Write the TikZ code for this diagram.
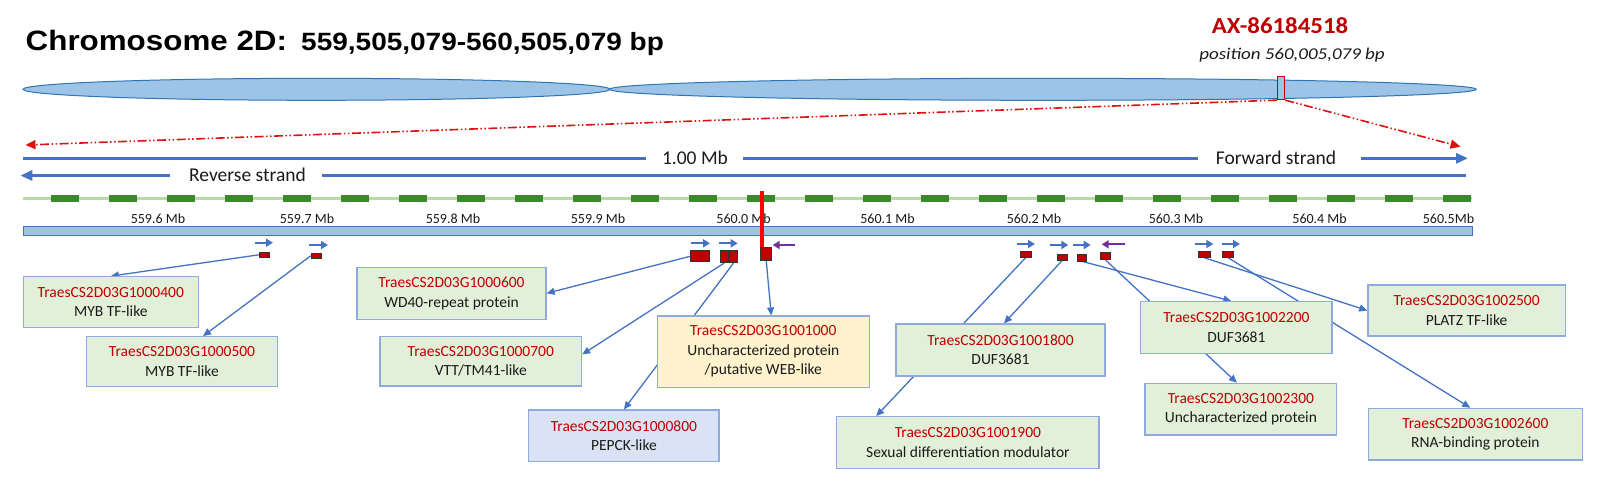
\documentclass[tikz,border=0pt]{standalone}
\usepackage{fontspec}
\setmainfont{Carlito}
\newfontfamily\arialfont{Liberation Sans}
\usetikzlibrary{arrows.meta,calc}
\definecolor{chromfill}{HTML}{9DC3E6}
\definecolor{chromline}{HTML}{2E75B6}
\definecolor{blueline}{HTML}{4472C4}
\definecolor{idred}{HTML}{C00000}
\definecolor{snpred}{HTML}{FF0000}
\definecolor{dashred}{HTML}{E01010}
\definecolor{dkgreen}{HTML}{3A8A2C}
\definecolor{ltgreen}{HTML}{B9DAA3}
\definecolor{genepurple}{HTML}{7030A0}
\definecolor{lborder}{HTML}{8FAADC}
\definecolor{gfill}{HTML}{E2F0D9}
\definecolor{yfill}{HTML}{FFF2CC}
\definecolor{bfill}{HTML}{DAE3F3}
\definecolor{desc}{HTML}{1A1A1A}
\pgfdeclarelayer{bg}
\pgfsetlayers{bg,main}
\begin{document}
\begin{tikzpicture}[x=1pt,y=-1pt,
  chrom/.style={draw=chromline, line width=1pt, fill=chromfill},
  strand/.style={draw=blueline, line width=3pt},
  bigtip/.style={-{Triangle[length=12pt,width=10pt]}},
  strandtxt/.style={inner sep=0, anchor=base, font=\fontsize{19.5}{22}\selectfont, text=desc},
  scl/.style={inner sep=0, anchor=base, font=\fontsize{14}{16}\selectfont, text=desc},
  gene/.style={draw=black!80, line width=0.7pt, fill=idred, inner sep=0},
  garrow/.style={draw=blueline, line width=1.8pt, -{Triangle[length=7pt,width=8pt]}},
  parrow/.style={draw=genepurple, line width=1.8pt, -{Triangle[length=7pt,width=8pt]}},
  lbox/.style={draw=lborder, line width=1.2pt, inner sep=0, align=center, font=\fontsize{15.5}{19.5}\selectfont, text=desc},
  conn/.style={draw=blueline, line width=1.3pt, -{Triangle[length=8pt,width=7pt]}},
  reddash/.style={draw=dashred, line width=1.6pt, dash pattern=on 9pt off 2.5pt on 1.5pt off 2.5pt on 1.5pt off 2.5pt, -{Triangle[length=10pt,width=9pt]}}
]
\useasboundingbox (0,0) rectangle (1600,488);

% title
\node[anchor=base west, inner sep=0, font=\arialfont\bfseries\fontsize{28}{32}\selectfont] (title) at (25.5,50) {\scalebox{1.12}[1]{Chromosome 2D:}};
\node[anchor=base west, inner sep=0, font=\arialfont\bfseries\fontsize{25}{29}\selectfont] (range) at (301,50) {\scalebox{1.12}[1]{559,505,079-560,505,079 bp}};
\node[anchor=base, inner sep=0, font=\bfseries\fontsize{23}{26}\selectfont, text=idred] (ax) at (1280,33.3) {\scalebox{1.08}[1]{AX-86184518}};
\node[anchor=base, inner sep=0, font=\itshape\fontsize{16.5}{19}\selectfont, text=desc] (pos) at (1292,59.3) {\scalebox{1.15}[1]{position 560,005,079 bp}};

% chromosome
\draw[chrom] (316.4,89.3) ellipse [x radius=293.4, y radius=11];
\draw[chrom] (1042.9,89.3) ellipse [x radius=433.2, y radius=11];
\node[draw=idred, line width=1.3pt, fill=chromfill, inner sep=0, minimum width=7pt, minimum height=23pt] (marker) at (1281,88) {};

% zoom lines
\coordinate (redL) at (25.5,145);
\coordinate (redR) at (1460.5,146.7);
\draw[reddash] (marker.south west) -- (redL);
\draw[reddash] (marker.south east) -- (redR);

% strands
\node[strandtxt] (mb) at (695,164.5) {1.00 Mb};
\node[strandtxt] (fwd) at (1276,164.5) {Forward strand};
\node[strandtxt] (rev) at (247.5,181.5) {Reverse strand};
\coordinate (topL) at (23,158.3);
\coordinate (topR) at (1468,158.3);
\draw[strand] (topL) -- ($(topL -| mb.west)+(-16,0)$);
\draw[strand] ($(topL -| mb.east)+(15,0)$) -- ($(topL -| fwd.west)+(-18,0)$);
\draw[strand, bigtip] ($(topL -| fwd.east)+(25,0)$) -- (topR);
\coordinate (revL) at (20.4,175.5);
\coordinate (revR) at (1466,175.5);
\draw[strand, bigtip] ($(revL -| rev.west)+(-19,0)$) -- (revL);
\draw[strand] ($(revL -| rev.east)+(16,0)$) -- (revR);

% green track
\draw[ltgreen, line width=3pt] (23,198.5) -- (1472,198.5);
\foreach \k in {0,...,24} \fill[dkgreen] ({51+58*\k},195) rectangle ++(28,7);

% scale labels
\node[scl] (s1) at (158,223) {559.6 Mb};
\node[scl] (s2) at (307,223) {559.7 Mb};
\node[scl] (s3) at (453,223) {559.8 Mb};
\node[scl] (s4) at (598,223) {559.9 Mb};
\node[scl] (s5) at (743.6,223) {560.0 Mb};
\node[scl] (s6) at (887.5,223) {560.1 Mb};
\node[scl] (s7) at (1034,223) {560.2 Mb};
\node[scl] (s8) at (1176,223) {560.3 Mb};
\node[scl] (s9) at (1319.6,223) {560.4 Mb};
\node[scl] (s10) at (1448.5,223) {560.5Mb};

% ruler bar
\draw[draw=blueline, line width=1pt, fill=chromfill] (23,226.5) rectangle (1472,235.5);

% SNP line
\draw[snpred, line width=4pt] (762,191) -- (762,257);

% genes
\node[gene, minimum width=10pt, minimum height=5.5pt] (g400) at (264.3,254.8) {};
\node[gene, minimum width=10.5pt, minimum height=5.5pt] (g500) at (316.3,255.8) {};
\node[gene, minimum width=19pt, minimum height=11pt] (g600) at (700.3,256.2) {};
\node[gene, minimum width=8.3pt, minimum height=12pt] (g700a) at (724.2,256.7) {};
\node[gene, minimum width=8.3pt, minimum height=12pt] (g700b) at (733.5,256.7) {};
\node[gene, minimum width=11pt, minimum height=12.7pt] (g1000) at (766.2,253.7) {};
\node[gene, minimum width=11pt, minimum height=6pt] (g1800) at (1025.5,254.5) {};
\node[gene, minimum width=10pt, minimum height=6pt] (g1900) at (1062.3,257) {};
\node[gene, minimum width=9.4pt, minimum height=7pt] (g2200) at (1082,257.5) {};
\node[gene, minimum width=10pt, minimum height=7pt] (g2300) at (1105.7,256.3) {};
\node[gene, minimum width=12pt, minimum height=6pt] (g2500) at (1204.5,254.5) {};
\node[gene, minimum width=11pt, minimum height=6pt] (g2600) at (1228.3,254.5) {};

% gene direction arrows
\draw[garrow] (255,242.7) -- (273,242.7);
\draw[garrow] (309,245) -- (328,245);
\draw[garrow] (690.7,243.3) -- (710,243.3);
\draw[garrow] (719.3,243.3) -- (737.7,243.3);
\draw[parrow] (795,245) -- (772.7,245);
\draw[garrow] (1016.7,244) -- (1035,244);
\draw[garrow] (1050,245) -- (1068.3,245);
\draw[garrow] (1072.7,245) -- (1090.7,245);
\draw[parrow] (1125,244.3) -- (1101.7,244.3);
\draw[garrow] (1195,244) -- (1213.3,244);
\draw[garrow] (1221.7,244) -- (1240,244);

% label boxes
\node[lbox, fill=gfill, minimum width=175pt, minimum height=50.6pt] (b400) at (110.8,302) {\textcolor{idred}{TraesCS2D03G1000400}\\MYB TF-like};
\node[lbox, fill=gfill, minimum width=190.6pt, minimum height=50pt] (b500) at (182,361.7) {\textcolor{idred}{TraesCS2D03G1000500}\\MYB TF-like};
\node[lbox, fill=gfill, minimum width=189pt, minimum height=52pt] (b600) at (451.5,293.3) {\textcolor{idred}{TraesCS2D03G1000600}\\WD40-repeat protein};
\node[lbox, fill=gfill, minimum width=201.6pt, minimum height=49.3pt] (b700) at (480.8,361.4) {\textcolor{idred}{TraesCS2D03G1000700}\\VTT/TM41-like};
\node[lbox, fill=bfill, minimum width=190.3pt, minimum height=51.7pt] (b800) at (623.9,435.9) {\textcolor{idred}{TraesCS2D03G1000800}\\PEPCK-like};
\node[lbox, fill=yfill, minimum width=212pt, minimum height=71.3pt] (b1000) at (763.3,351.7) {\textcolor{idred}{TraesCS2D03G1001000}\\Uncharacterized protein\\/putative WEB-like};
\node[lbox, fill=gfill, minimum width=209pt, minimum height=52pt] (b1800) at (1000.5,350) {\textcolor{idred}{TraesCS2D03G1001800}\\DUF3681};
\node[lbox, fill=gfill, minimum width=262.2pt, minimum height=51.6pt] (b1900) at (967.9,442.5) {\textcolor{idred}{TraesCS2D03G1001900}\\Sexual differentiation modulator};
\node[lbox, fill=gfill, minimum width=191.2pt, minimum height=51.6pt] (b2200) at (1236.4,327.5) {\textcolor{idred}{TraesCS2D03G1002200}\\DUF3681};
\node[lbox, fill=gfill, minimum width=191.7pt, minimum height=51.7pt] (b2300) at (1240.9,409.2) {\textcolor{idred}{TraesCS2D03G1002300}\\Uncharacterized protein};
\node[lbox, fill=gfill, minimum width=197.4pt, minimum height=51pt] (b2500) at (1466.6,310.5) {\textcolor{idred}{TraesCS2D03G1002500}\\PLATZ TF-like};
\node[lbox, fill=gfill, minimum width=214pt, minimum height=51.7pt] (b2600) at (1475.3,434.2) {\textcolor{idred}{TraesCS2D03G1002600}\\RNA-binding protein};

% connectors
\begin{pgfonlayer}{bg}
\draw[conn] (g400.west) -- (b400.north);
\draw[conn] (g500.west) -- ($(b500.north)+(21,0)$);
\draw[conn] (g600.west) -- (b600.east);
\draw[conn] (g700a.south) -- ($(b700.east)+(0,-7)$);
\draw[conn] (g700b.south) -- (b800.north);
\draw[conn] (g1000.south) -- ($(b1000.north)+(8,0)$);
\draw[conn] (g1800.south) -- ($(b1900.north west)+(40,0)$);
\draw[conn] (g1900.south) -- ($(b1800.north)+(3.5,0)$);
\draw[conn] (g2200.south) -- ($(b2200.north)+(-5,0)$);
\draw[conn] (g2300.south) -- ($(b2300.north)+(-4,0)$);
\draw[conn] (g2500.south) -- (b2500.west);
\draw[conn] (g2600.south) -- ($(b2600.north)+(-5,0)$);
\end{pgfonlayer}
\end{tikzpicture}
\end{document}
